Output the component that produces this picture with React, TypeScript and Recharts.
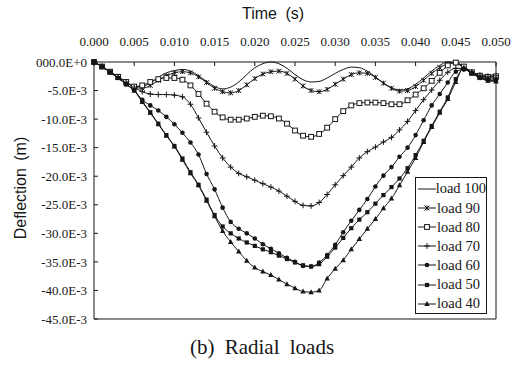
import React from "react";
import { LineChart, Line, XAxis, YAxis, Legend, ReferenceLine } from "recharts";

// time in ms (axis shows seconds)
const timeMs = [
  0, 1, 2, 3, 4, 5, 6, 7, 8, 9, 10, 11, 12, 13, 14, 15, 16, 17, 18, 19, 20,
  21, 22, 23, 24, 25, 26, 27, 28, 29, 30, 31, 32, 33, 34, 35, 36, 37, 38, 39,
  40, 41, 42, 43, 44, 45, 46, 47, 48, 49, 50,
];

// deflection in 1E-3 m
const load100 = [
  0, -0.8, -1.7, -2.6, -3.5, -4.3, -4.3, -3.6, -2.7, -1.9,
  -1.5, -1.3, -1.6, -2.4, -3.4, -4.3, -4.7, -4.4, -3.5, -2.2,
  -1.0, -0.3, 0, -0.3, -1.1, -2.2, -3.1, -3.5, -3.4, -2.8,
  -2.0, -1.3, -0.9, -1.0, -1.6, -2.6, -3.7, -4.5, -4.9, -4.7,
  -3.9, -2.8, -1.6, -0.6, 0, -0.2, -1.0, -1.8, -2.2, -2.3,
  -2.2,
];
const load90 = [
  0, -0.8, -1.7, -2.6, -3.5, -4.4, -4.6, -4.1, -3.2, -2.4,
  -1.9, -1.7, -1.9, -2.6, -3.6, -4.6, -5.2, -5.4, -5.0, -4.0,
  -2.9, -2.1, -1.7, -1.6, -2.0, -3.0, -4.2, -5.0, -5.2, -4.8,
  -3.9, -3.0, -2.2, -1.9, -2.0, -2.7, -3.7, -4.6, -5.1, -5.0,
  -4.3, -3.2, -2.0, -1.0, -0.3, -0.1, -0.9, -2.0, -2.6, -2.8,
  -2.7,
];
const load80 = [
  0, -0.8, -1.7, -2.6, -3.5, -4.3, -4.1, -3.5, -3.0, -2.8,
  -2.8, -3.1, -4.1, -5.6, -7.3, -8.7, -9.7, -10.1, -10.1, -9.9,
  -9.6, -9.4, -9.5, -9.9, -10.8, -12.0, -12.9, -13.1, -12.6, -11.5,
  -10.0, -8.6, -7.6, -7.2, -7.1, -7.1, -7.2, -7.4, -7.4, -6.7,
  -5.7, -4.6, -3.3, -1.9, -0.6, -0.1, -0.8, -1.8, -2.4, -2.6,
  -2.5,
];
const load70 = [
  0, -0.8, -1.7, -2.6, -3.5, -4.4, -5.2, -5.6, -5.7, -5.7,
  -5.8, -6.1, -7.4, -9.8, -12.3, -14.7, -16.8, -18.4, -19.5, -20.1,
  -20.7, -21.3, -21.9, -22.6, -23.5, -24.4, -25.1, -25.2, -24.6, -23.2,
  -21.5, -19.9, -18.4, -16.8, -15.7, -14.9, -14.0, -13.2, -11.9, -10.4,
  -8.5, -6.6, -4.9, -3.2, -1.8, -1.1, -1.2, -1.8, -2.3, -2.5,
  -2.4,
];
const load60 = [
  0, -0.8, -1.8, -2.8, -3.9, -5.0, -6.6, -7.6, -8.5, -9.6,
  -10.9, -12.4, -14.1, -16.2, -19.6, -22.3, -25.5, -28.0, -29.2, -30.0,
  -30.9, -31.9, -32.7, -33.5, -34.3, -35.0, -35.7, -35.8, -35.1, -33.8,
  -32.0, -29.8, -27.8, -25.9, -24.0, -21.8, -19.9, -18.4, -16.6, -15.0,
  -12.8, -10.2, -7.6, -5.6, -3.6, -1.7, -1.3, -2.0, -2.7, -3.0,
  -3.0,
];
const load50 = [
  0, -0.8, -1.8, -2.8, -3.9, -4.9, -6.9, -8.8, -10.8, -12.8,
  -14.7, -16.9, -19.3, -21.5, -24.1, -26.8, -28.8, -30.0, -30.9, -31.6,
  -32.2, -32.8, -33.3, -33.9, -34.5, -35.1, -35.6, -35.8, -35.4, -34.1,
  -32.5, -30.8, -29.1, -27.6, -26.3, -24.8, -23.3, -21.9, -20.4, -18.6,
  -16.3, -13.8, -11.2, -8.7, -6.2, -3.0, -1.2, -2.0, -2.8, -3.2,
  -3.3,
];
const load40 = [
  0, -0.8, -1.8, -2.8, -3.9, -5.0, -7.0, -8.9, -10.9, -12.9,
  -14.8, -17.1, -19.5, -21.6, -24.3, -27.0, -29.6, -31.5, -33.2, -34.8,
  -36.0, -36.7, -37.3, -38.1, -38.9, -39.6, -40.2, -40.3, -40.0, -37.9,
  -36.2, -34.7, -32.8, -31.0, -29.2, -27.5, -25.6, -23.9, -21.6, -19.2,
  -16.8, -14.0, -11.4, -8.9, -6.5, -3.5, -1.0, -1.8, -2.7, -3.3,
  -3.4,
];

const xTicks = [0, 5, 10, 15, 20, 25, 30, 35, 40, 45, 50];
const yTicks = [0, -5, -10, -15, -20, -25, -30, -35, -40, -45];

const INK = "#161616";
const SERIF = "'Liberation Serif', 'Times New Roman', serif";
const SANS = "'Liberation Sans', Arial, sans-serif";

const SERIES = [
  { key: "load100", name: "load 100", values: load100, marker: "none" },
  { key: "load90", name: "load 90", values: load90, marker: "star" },
  { key: "load80", name: "load 80", values: load80, marker: "openSquare" },
  { key: "load70", name: "load 70", values: load70, marker: "plus" },
  { key: "load60", name: "load 60", values: load60, marker: "dot" },
  { key: "load50", name: "load 50", values: load50, marker: "square" },
  { key: "load40", name: "load 40", values: load40, marker: "triangle" },
];

const chartData = timeMs.map((t, i) => {
  const row: Record<string, number> = { t };
  SERIES.forEach((s) => {
    row[s.key] = s.values[i];
  });
  return row;
});

function Marker({ cx, cy, kind }: { cx: number; cy: number; kind: string }) {
  const s = 2.4;
  if (cx == null || cy == null) return null;
  switch (kind) {
    case "star":
      return (
        <g stroke={INK} strokeWidth={1}>
          <line x1={cx - s} y1={cy - s} x2={cx + s} y2={cy + s} />
          <line x1={cx - s} y1={cy + s} x2={cx + s} y2={cy - s} />
          <line x1={cx} y1={cy - s} x2={cx} y2={cy + s} />
        </g>
      );
    case "openSquare":
      return (
        <rect x={cx - s} y={cy - s} width={2 * s} height={2 * s} fill="#fff" stroke={INK} strokeWidth={1} />
      );
    case "plus":
      return (
        <g stroke={INK} strokeWidth={1}>
          <line x1={cx - s - 0.5} y1={cy} x2={cx + s + 0.5} y2={cy} />
          <line x1={cx} y1={cy - s - 0.5} x2={cx} y2={cy + s + 0.5} />
        </g>
      );
    case "dot":
      return <circle cx={cx} cy={cy} r={2.3} fill={INK} />;
    case "square":
      return <rect x={cx - 2.1} y={cy - 2.1} width={4.2} height={4.2} fill={INK} />;
    case "triangle":
      return (
        <polygon
          points={`${cx},${cy - 3} ${cx - 2.7},${cy + 2} ${cx + 2.7},${cy + 2}`}
          fill={INK}
        />
      );
    default:
      return null;
  }
}

function LegendBox() {
  return (
    <div
      style={{
        border: `1px solid ${INK}`,
        background: "#fff",
        width: 70,
        paddingTop: 1,
        fontFamily: SERIF,
        fontSize: 14.5,
        color: INK,
      }}
    >
      {SERIES.map((s) => (
        <div key={s.key} style={{ display: "flex", alignItems: "center", height: 19.2 }}>
          <svg width={19} height={10} style={{ marginLeft: 2 }}>
            <line x1={0} y1={5} x2={18} y2={5} stroke={INK} strokeWidth={1} />
            {s.marker !== "none" && <Marker cx={9} cy={5} kind={s.marker} />}
          </svg>
          <span style={{ lineHeight: 1, whiteSpace: "nowrap" }}>{s.name}</span>
        </div>
      ))}
    </div>
  );
}

const fmtX = (v: number) => (v / 1000).toFixed(3);
const fmtY = (v: number) => (v === 0 ? "000.0E+0" : `${v.toFixed(1)}E-3`);

const tickFont = {
  fill: INK,
  fontSize: 13,
  fontFamily: SERIF,
};

export default function App() {
  return (
    <div style={{ position: "absolute", left: 0, top: 0, width: 515, height: 370, background: "#fff" }}>
      <LineChart
        width={515}
        height={370}
        data={chartData}
        margin={{ top: 32, right: 19, bottom: 51, left: 34 }}
      >
        <XAxis
          dataKey="t"
          type="number"
          orientation="top"
          domain={[0, 50]}
          ticks={xTicks}
          tickFormatter={fmtX}
          height={30}
          tickSize={-4}
          tickMargin={20}
          tick={tickFont}
          stroke={INK}
          interval={0}
        />
        <YAxis
          type="number"
          domain={[-45, 0]}
          ticks={yTicks}
          tickFormatter={fmtY}
          width={60}
          tickSize={-4}
          tickMargin={11}
          tick={tickFont}
          stroke={INK}
          interval={0}
        />
        <ReferenceLine x={50} stroke={INK} strokeWidth={1} />
        <ReferenceLine y={-45} stroke={INK} strokeWidth={1} />
        {SERIES.map((s) => (
          <Line
            key={s.key}
            dataKey={s.key}
            name={s.name}
            type="monotone"
            stroke={INK}
            strokeWidth={1}
            isAnimationActive={false}
            activeDot={false}
            dot={
              s.marker === "none"
                ? false
                : (p: any) => <Marker key={`${s.key}-${p.index}`} cx={p.cx} cy={p.cy} kind={s.marker} />
            }
          />
        ))}
        <Legend
          layout="vertical"
          align="center"
          verticalAlign="middle"
          content={() => <LegendBox />}
          wrapperStyle={{ left: 415, top: 177, width: 72, height: "auto" }}
        />
      </LineChart>
      <div
        style={{
          position: "absolute",
          left: 198,
          top: 5,
          width: 150,
          textAlign: "center",
          fontFamily: SANS,
          fontSize: 16,
          wordSpacing: 4,
          color: INK,
        }}
      >
        Time (s)
      </div>
      <div
        style={{
          position: "absolute",
          left: 21 - 75,
          top: 188 - 10,
          width: 150,
          height: 20,
          lineHeight: "20px",
          textAlign: "center",
          fontFamily: SANS,
          fontSize: 16,
          wordSpacing: 3,
          color: INK,
          transform: "rotate(-90deg)",
          transformOrigin: "center",
        }}
      >
        Deflection (m)
      </div>
      <div
        style={{
          position: "absolute",
          left: 112,
          top: 335,
          width: 300,
          lineHeight: "24px",
          textAlign: "center",
          fontFamily: SERIF,
          fontSize: 21,
          wordSpacing: 5,
          color: INK,
        }}
      >
        (b) Radial loads
      </div>
    </div>
  );
}
